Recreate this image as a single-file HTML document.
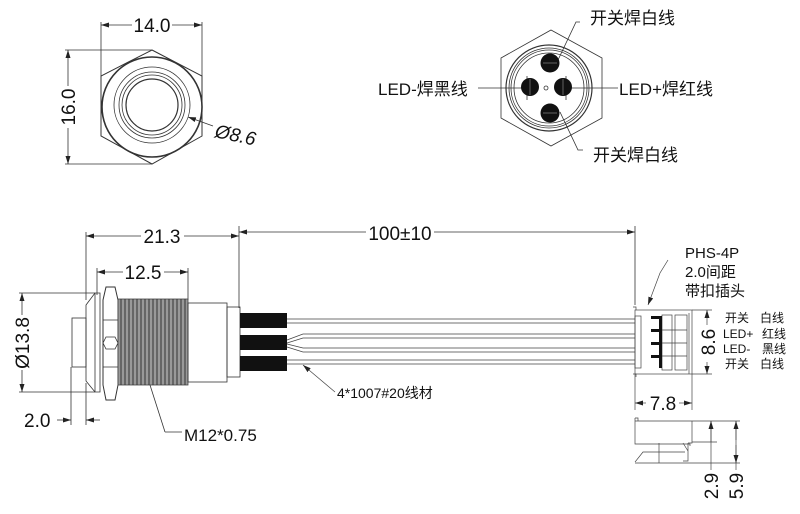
<!DOCTYPE html>
<html><head><meta charset="utf-8"><style>
html,body{margin:0;padding:0;background:#fff;}
svg{display:block;}
text{font-family:"Liberation Sans","Noto Sans CJK SC",sans-serif;fill:#111;}
.cn{font-family:"Liberation Sans","Noto Sans CJK SC",sans-serif;}
</style></head><body>
<svg width="800" height="514" viewBox="0 0 800 514" xmlns="http://www.w3.org/2000/svg">
<defs>
<marker id="a" markerWidth="8" markerHeight="6" refX="8" refY="3" orient="auto-start-reverse" markerUnits="userSpaceOnUse"><path d="M0,0.5 L8,3 L0,5.5 z" fill="#222"/></marker>
</defs>
<g stroke="#333" fill="none" stroke-width="0.8">
<polygon points="152,50 202,76 202,136 152,164 101,136 101,76" stroke-width="1"/>
<circle cx="152" cy="107" r="50" stroke-width="1.6"/>
<circle cx="152" cy="105" r="38"/>
<circle cx="152" cy="105" r="33"/>
<circle cx="152" cy="105" r="30"/>
<circle cx="152" cy="105" r="26" stroke-width="1.2"/>
<line x1="101" y1="22" x2="101" y2="76"/><line x1="202" y1="22" x2="202" y2="76"/>
<line x1="101" y1="25" x2="132" y2="25" marker-start="url(#a)"/><line x1="172" y1="25" x2="202" y2="25" marker-end="url(#a)"/>
<line x1="65" y1="50" x2="152" y2="50"/><line x1="65" y1="164" x2="152" y2="164"/>
<line x1="68" y1="50" x2="68" y2="86" marker-start="url(#a)"/><line x1="68" y1="128" x2="68" y2="164" marker-end="url(#a)"/>
<line x1="213" y1="126" x2="188" y2="117" marker-end="url(#a)"/>
<polygon points="551,30 602,58 602,118 551,146 501,118 501,58"/>
<circle cx="549" cy="88" r="43" stroke-width="1.2"/>
<circle cx="549" cy="88" r="40"/>
<circle cx="549" cy="88" r="38"/>
<circle cx="549" cy="88" r="35"/>
<circle cx="546" cy="88" r="2"/>
<line x1="527" y1="76" x2="527" y2="100"/><line x1="566" y1="76" x2="566" y2="100"/>
<polyline points="580,22 576,22 558,60"/>
<polyline points="583,150 578,150 560,112"/>
<line x1="478" y1="88" x2="532" y2="88"/>
<line x1="566" y1="88" x2="618" y2="88"/>
</g>
<g fill="#111">
<circle cx="550" cy="63" r="9.5"/><circle cx="530" cy="87" r="9"/><circle cx="563" cy="87" r="9"/><circle cx="550" cy="113" r="9.5"/>
</g>
<g stroke="#999" stroke-width="0.6"><line x1="530" y1="79" x2="530" y2="95"/><line x1="563" y1="79" x2="563" y2="95"/><line x1="543" y1="63" x2="557" y2="63"/><line x1="543" y1="113" x2="557" y2="113"/></g>

<text x="152" y="32" font-size="19" text-anchor="middle">14.0</text>
<text transform="translate(75,107) rotate(-90)" font-size="19" text-anchor="middle">16.0</text>
<text transform="translate(214,137) rotate(12)" font-size="19" font-style="italic">Ø8.6</text>
<text x="590" y="24" font-size="17" class="cn">开关焊白线</text>
<text x="378" y="95" font-size="17" class="cn">LED-焊黑线</text>
<text x="619" y="95" font-size="17" class="cn">LED+焊红线</text>
<text x="593" y="161" font-size="17" class="cn">开关焊白线</text>

<g stroke="#333" fill="none" stroke-width="0.8">
<line x1="86" y1="232" x2="86" y2="300"/><line x1="239" y1="226" x2="239" y2="308"/>
<line x1="86" y1="236" x2="141" y2="236" marker-start="url(#a)"/><line x1="184" y1="236" x2="239" y2="236" marker-end="url(#a)"/>
<line x1="97" y1="268" x2="97" y2="295"/><line x1="188" y1="268" x2="188" y2="300"/>
<line x1="97" y1="272" x2="123" y2="272" marker-start="url(#a)"/><line x1="164" y1="272" x2="188" y2="272" marker-end="url(#a)"/>
<line x1="19" y1="293" x2="95" y2="293"/><line x1="19" y1="392" x2="95" y2="392"/>
<line x1="22" y1="293" x2="22" y2="315" marker-start="url(#a)"/><line x1="22" y1="370" x2="22" y2="392" marker-end="url(#a)"/>
<line x1="71" y1="367" x2="71" y2="425"/><line x1="86" y1="383" x2="86" y2="425"/>
<line x1="57" y1="420" x2="71" y2="420" marker-end="url(#a)"/><line x1="100" y1="420" x2="86" y2="420" marker-end="url(#a)"/>
<line x1="239" y1="232" x2="366" y2="232" marker-start="url(#a)"/><line x1="434" y1="232" x2="635" y2="232" marker-end="url(#a)"/>
<line x1="635" y1="226" x2="635" y2="305"/>
<rect x="72" y="318" width="14" height="49"/>
<polygon points="86,305 95,293 100,293 100,392 95,392 86,381"/>
<line x1="95" y1="293" x2="95" y2="392"/>
<path d="M103,300 L106,287 L115,287 L118,300 L118,385 L115,400 L106,400 L103,385 Z" stroke-width="1"/>
<path d="M103,320 L118,320 M103,367 L118,367 M103,343 L106,337 L115,337 L118,343 L115,349 L106,349 Z"/>
<rect x="118" y="299" width="70" height="86" fill="#999" stroke="#444"/>
<rect x="188" y="303" width="39" height="79"/>
<rect x="227" y="307" width="13" height="70"/>
<line x1="150" y1="385" x2="165" y2="432"/><line x1="165" y1="432" x2="182" y2="432"/>
</g>
<g stroke="#333" stroke-width="1">
<path d="M121,299V385M125,299V385M129,299V385M133,299V385M137,299V385M141,299V385M145,299V385M149,299V385M153,299V385M157,299V385M161,299V385M165,299V385M169,299V385M173,299V385M177,299V385M181,299V385M185,299V385"/>
</g>
<g fill="#111"><rect x="240" y="313" width="47" height="15"/><rect x="240" y="335" width="47" height="15"/><rect x="240" y="356" width="47" height="15"/></g>
<g stroke="#444" fill="none" stroke-width="0.7">
<path d="M287,319H635M287,323H635M287,360H635M287,364H635"/>
<path d="M287,340 L303,334 H635 M287,343 L303,338 H635 M287,344 L303,348 H635 M287,347 L303,352 H635"/>
<line x1="335" y1="392" x2="303" y2="365" marker-end="url(#a)"/>
<rect x="635" y="310" width="57" height="64"/>
<rect x="635" y="316" width="6" height="52"/>
<path d="M633,307h3v3M633,374h3v3"/>
<rect x="662" y="315" width="10" height="55"/><rect x="675" y="315" width="12" height="55"/>
<path d="M662,330h25M662,343h25M662,356h25"/>
<line x1="689" y1="313" x2="689" y2="374"/>
<line x1="692" y1="310" x2="712" y2="310"/><line x1="692" y1="374" x2="712" y2="374"/>
<line x1="707" y1="310" x2="707" y2="325" marker-start="url(#a)"/><line x1="707" y1="362" x2="707" y2="374" marker-end="url(#a)"/>
<line x1="635" y1="374" x2="635" y2="410"/><line x1="692" y1="374" x2="692" y2="410"/>
<line x1="635" y1="403" x2="646" y2="403" marker-start="url(#a)"/><line x1="679" y1="403" x2="692" y2="403" marker-end="url(#a)"/>
<polyline points="668,260 660,273 648,305" marker-end="url(#a)"/>
<path d="M635,418 h3 v3 M635,418 v26 h55 l0,2 M692,421 v22 h-4 M635,421 h105 M692,442 h25 M688,443 v18 h-5 M635,462 l8,-10 h18 M659,443 v20 M683,443 l5,8 M635,463 h105 M645,452 h40"/>
<line x1="711" y1="421" x2="711" y2="470"/>
<line x1="711" y1="442" x2="711" y2="421" marker-end="url(#a)"/>
<line x1="736" y1="421" x2="736" y2="470"/>
<line x1="736" y1="440" x2="736" y2="421" marker-end="url(#a)"/><line x1="736" y1="445" x2="736" y2="463" marker-end="url(#a)"/>
</g>
<g fill="#111"><rect x="651" y="316" width="11" height="3"/><rect x="651" y="329" width="11" height="3"/><rect x="651" y="342" width="11" height="3"/><rect x="651" y="355" width="11" height="3"/>
<rect x="659" y="316" width="3" height="52"/></g>

<text x="162" y="243" font-size="19" text-anchor="middle">21.3</text>
<text x="143" y="279" font-size="19" text-anchor="middle">12.5</text>
<text transform="translate(29,343) rotate(-90)" font-size="19" text-anchor="middle">Ø13.8</text>
<text x="24" y="427" font-size="19">2.0</text>
<text x="184" y="441" font-size="17">M12*0.75</text>
<text x="400" y="240" font-size="19" text-anchor="middle">100±10</text>
<text x="337" y="398" font-size="14" class="cn">4*1007#20线材</text>
<text x="685" y="258" font-size="15">PHS-4P</text>
<text x="685" y="277" font-size="15" class="cn">2.0间距</text>
<text x="685" y="296" font-size="15" class="cn">带扣插头</text>
<text transform="translate(715,342) rotate(-90)" font-size="19" text-anchor="middle">8.6</text>
<g font-size="12" class="cn">
<text x="725" y="322">开关</text><text x="760" y="322">白线</text>
<text x="723" y="338">LED+</text><text x="762" y="338">红线</text>
<text x="723" y="353">LED-</text><text x="762" y="353">黑线</text>
<text x="725" y="368">开关</text><text x="760" y="368">白线</text>
</g>
<text x="663" y="410" font-size="19" text-anchor="middle">7.8</text>
<text transform="translate(718,486) rotate(-90)" font-size="19" text-anchor="middle">2.9</text>
<text transform="translate(743,486) rotate(-90)" font-size="19" text-anchor="middle">5.9</text>
</svg>
</body></html>
